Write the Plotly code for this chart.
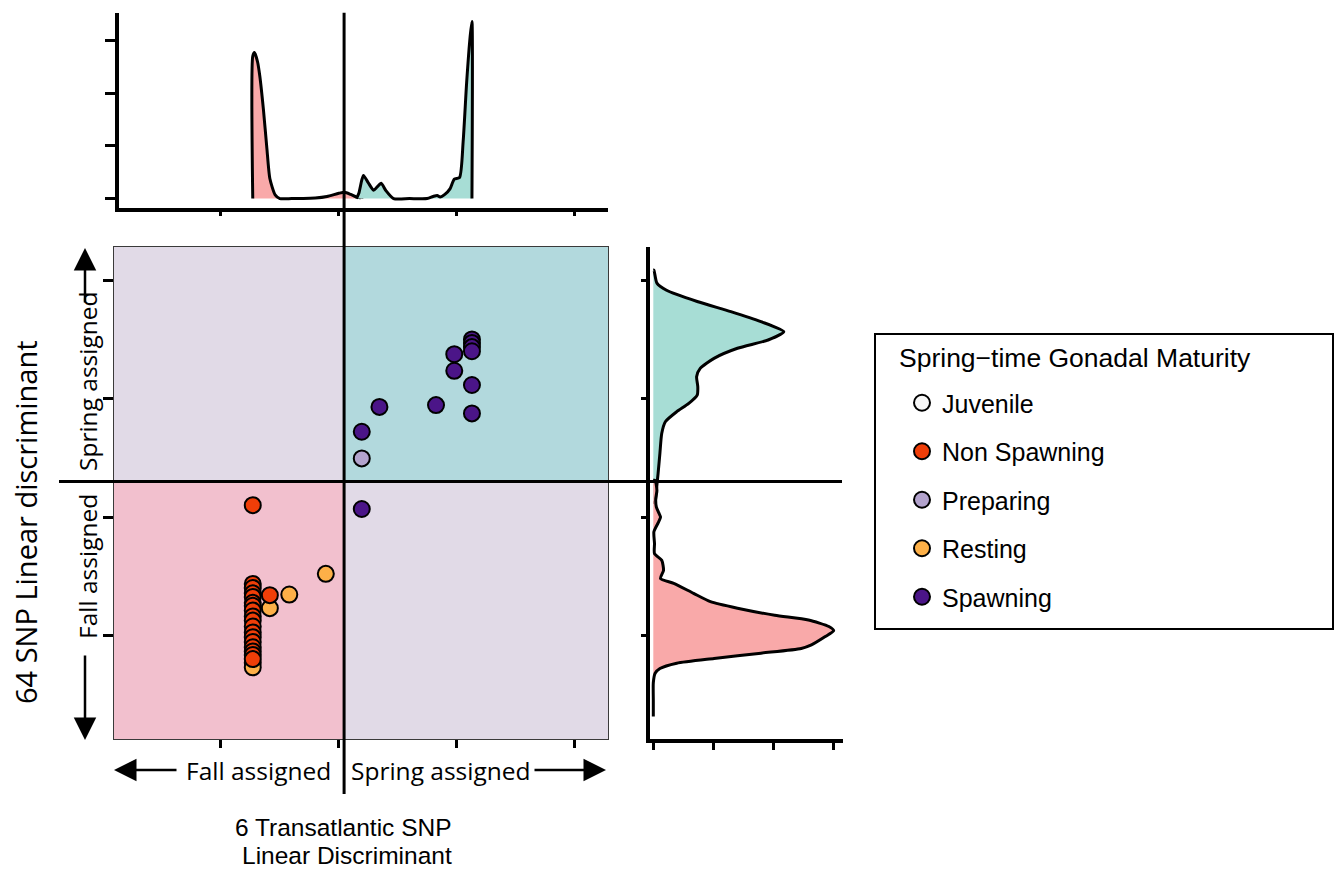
import plotly.graph_objects as go

# ---------------- scatter data ----------------
# x: 6 Transatlantic SNP linear discriminant, y: 64 SNP linear discriminant
juvenile_x = [None]
juvenile_y = [None]

nonspawning_x = [-1.46] * 18 + [-1.17]
nonspawning_y = [0.20, -1.13, -1.20, -1.29, -1.35, -1.45, -1.50, -1.58, -1.68,
                 -1.75, -1.85, -1.95, -2.03, -2.11, -2.20, -2.27, -2.33, -2.40,
                 -1.32]

preparing_x = [0.39]
preparing_y = [0.99]

resting_x = [-0.22, -0.84, -1.17, -1.46, -1.46]
resting_y = [-0.96, -1.31, -1.54, -2.46, -2.54]

spawning_x = [2.26, 2.26, 2.26, 2.26, 1.96, 1.96, 2.26, 0.69, 1.65, 2.26, 0.39, 0.39]
spawning_y = [3.00, 2.94, 2.87, 2.80, 2.75, 2.47, 2.23, 1.86, 1.89, 1.75, 1.44, 0.135]

# ---------------- marginal densities ----------------
# top margin: density along x, per assignment group
top_fall_x = [-1.46, -1.46, -1.43, -1.38, -1.34, -1.28, -1.22, -1.17, -1.08, -1.00,
              -0.80, -0.60, -0.40, -0.20, 0.00, 0.10, 0.20, 0.30, 0.39, 0.39]
top_fall_y = [0.00, 2.70, 2.77, 2.60, 2.32, 1.70, 0.95, 0.38, 0.07, 0.00,
              0.00, 0.00, 0.01, 0.04, 0.10, 0.12, 0.08, 0.03, 0.01, 0.00]

top_spring_x = [0.30, 0.34, 0.39, 0.42, 0.50, 0.59, 0.65, 0.72, 0.80, 0.93, 1.20,
                1.50, 1.60, 1.67, 1.72, 1.80, 1.89, 1.96, 2.05, 2.11, 2.17, 2.23,
                2.26, 2.26]
top_spring_y = [0.00, 0.10, 0.35, 0.44, 0.30, 0.16, 0.22, 0.29, 0.15, 0.00, 0.00,
                0.00, 0.04, 0.06, 0.03, 0.08, 0.19, 0.37, 0.40, 1.07, 2.20, 3.08,
                3.36, 0.00]

# right margin: density along y, per assignment group
right_spring_y = [4.17, 4.17, 3.95, 3.83, 3.64, 3.47, 3.30, 3.13, 2.99, 2.85, 2.68,
                  2.51, 2.37, 2.20, 2.06, 1.92, 1.78, 1.61, 1.41, 1.08, 0.74, 0.40,
                  0.25, 0.25]
right_spring_d = [0.00, 0.01, 0.06, 0.22, 0.73, 1.29, 1.79, 2.17, 1.91, 1.40, 1.01,
                  0.78, 0.72, 0.74, 0.73, 0.59, 0.39, 0.20, 0.14, 0.11, 0.08, 0.045,
                  0.03, 0.00]

right_fall_y = [0.62, 0.62, 0.45, 0.30, 0.17, 0.05, 0.00, -0.10, -0.25, -0.45, -0.62,
                -0.73, -0.90, -1.04, -1.12, -1.29, -1.43, -1.54, -1.66, -1.74, -1.85,
                -1.92, -2.02, -2.16, -2.22, -2.30, -2.39, -2.47, -2.56, -2.64, -2.80,
                -3.10, -3.37, -3.37]
right_fall_d = [0.00, 0.03, 0.06, 0.04, 0.05, 0.10, 0.12, 0.08, 0.01, 0.02, 0.02,
                0.14, 0.17, 0.12, 0.34, 0.67, 0.95, 1.40, 2.02, 2.58, 2.92,
                3.00, 2.86, 2.63, 2.46, 1.79, 1.01, 0.39, 0.11, 0.03, 0.00,
                0.00, 0.00, 0.00]

# assignment thresholds
x_cut = 0.09
y_cut = 0.60

# axis ranges and tick positions
x_range = [-3.815, 4.569]
top_x_range = [-3.73, 4.569]
y_range = [-3.75, 4.561]
x_ticks = [-2, 0, 2, 4]
y_ticks = [-2, 0, 2, 4]
top_dens_range = [-0.169, 3.526]
top_dens_ticks = [0, 1, 2, 3]
right_dens_range = [-0.055, 3.15]
right_dens_ticks = [0, 1, 2, 3]

W, H = 1340, 870


def px(v):
    return v / W


def py(v):
    return 1 - v / H


COL_FALL_DENS = "#F9A9A9"
COL_SPRING_DENS = "#A7DDD5"
COL_Q_MIXED = "#E1DAE7"
COL_Q_SPRING = "#B2D9DD"
COL_Q_FALL = "#F2C0CE"

TXT_FONT = "Open Sans"
TITLE_FONT = "Liberation Sans"

fig = go.Figure()

# marginal density polygons
dens_line = dict(color="black", width=3, shape="spline", smoothing=0.6)
fig.add_trace(go.Scatter(x=top_fall_x, y=top_fall_y, xaxis="x2", yaxis="y2",
                         mode="lines", fill="toself", fillcolor=COL_FALL_DENS,
                         line=dens_line, showlegend=False, hoverinfo="skip"))
fig.add_trace(go.Scatter(x=top_spring_x, y=top_spring_y, xaxis="x2", yaxis="y2",
                         mode="lines", fill="toself", fillcolor=COL_SPRING_DENS,
                         line=dens_line, showlegend=False, hoverinfo="skip"))
fig.add_trace(go.Scatter(x=right_spring_d, y=right_spring_y, xaxis="x3", yaxis="y3",
                         mode="lines", fill="toself", fillcolor=COL_SPRING_DENS,
                         line=dens_line, showlegend=False, hoverinfo="skip"))
fig.add_trace(go.Scatter(x=right_fall_d, y=right_fall_y, xaxis="x3", yaxis="y3",
                         mode="lines", fill="toself", fillcolor=COL_FALL_DENS,
                         line=dens_line, showlegend=False, hoverinfo="skip"))

# scatter groups (drawn so that Non Spawning sits on top, legend order fixed by rank)
groups = [
    ("Juvenile", juvenile_x, juvenile_y, "#F7F7F7", 1),
    ("Preparing", preparing_x, preparing_y, "#B3A3CD", 3),
    ("Resting", resting_x, resting_y, "#FDB048", 4),
    ("Spawning", spawning_x, spawning_y, "#4B1588", 5),
    ("Non Spawning", nonspawning_x, nonspawning_y, "#F03E08", 2),
]
for name, gx, gy, col, rank in groups:
    fig.add_trace(go.Scatter(
        x=gx, y=gy, mode="markers", name=name, legendgroup=name, legendrank=rank,
        marker=dict(size=16, color=col, line=dict(color="black", width=2)),
    ))

# quadrant backgrounds
quads = [
    (x_range[0], x_cut, y_cut, y_range[1], COL_Q_MIXED),
    (x_cut, x_range[1], y_cut, y_range[1], COL_Q_SPRING),
    (x_range[0], x_cut, y_range[0], y_cut, COL_Q_FALL),
    (x_cut, x_range[1], y_range[0], y_cut, COL_Q_MIXED),
]
shapes = []
for x0, x1, y0, y1, col in quads:
    shapes.append(dict(type="rect", xref="x", yref="y", x0=x0, x1=x1, y0=y0, y1=y1,
                       fillcolor=col, line=dict(width=0), layer="below"))

# threshold lines spanning the panels
shapes.append(dict(type="line", xref="x", yref="paper", x0=x_cut, x1=x_cut,
                   y0=py(794), y1=py(12.7), line=dict(color="black", width=3)))
shapes.append(dict(type="line", xref="paper", yref="y", x0=px(59), x1=px(842),
                   y0=y_cut, y1=y_cut, line=dict(color="black", width=3)))

# legend frame
shapes.append(dict(type="rect", xref="paper", yref="paper", x0=px(875), x1=px(1333),
                   y0=py(629), y1=py(334), line=dict(color="black", width=2),
                   fillcolor="rgba(0,0,0,0)"))

ann_font = dict(family=TXT_FONT, size=24.5, color="black")
arrow = dict(xref="paper", yref="paper", text="", showarrow=True, arrowhead=2,
             arrowsize=1.8, arrowwidth=2.5, arrowcolor="black")
xtitle_font = dict(family=TITLE_FONT, size=24.5, color="black")

annotations = [
    # horizontal assignment labels with arrows
    dict(x=px(258), y=py(770), xref="paper", yref="paper", text="Fall assigned",
         showarrow=False, xanchor="center", yanchor="middle", font=ann_font),
    dict(x=px(441), y=py(770), xref="paper", yref="paper", text="Spring assigned",
         showarrow=False, xanchor="center", yanchor="middle", font=ann_font),
    dict(x=px(114), y=py(770), ax=64, ay=0, **arrow),
    dict(x=px(606), y=py(770), ax=-73, ay=0, **arrow),
    # vertical assignment labels with arrows
    dict(x=px(87), y=py(381), xref="paper", yref="paper", text="Spring assigned",
         showarrow=False, textangle=-90, xanchor="center", yanchor="middle",
         font=ann_font),
    dict(x=px(87), y=py(567), xref="paper", yref="paper", text="Fall assigned",
         showarrow=False, textangle=-90, xanchor="center", yanchor="middle",
         font=ann_font),
    dict(x=px(85), y=py(248), ax=0, ay=56, **arrow),
    dict(x=px(85), y=py(740), ax=0, ay=-86, **arrow),
    # x axis title (two lines)
    dict(x=px(343), y=py(827), xref="paper", yref="paper", text="6 Transatlantic SNP",
         showarrow=False, xanchor="center", yanchor="middle", font=xtitle_font),
    dict(x=px(347), y=py(855.5), xref="paper", yref="paper", text="Linear Discriminant",
         showarrow=False, xanchor="center", yanchor="middle", font=xtitle_font),
    # y axis title
    dict(x=px(25), y=py(522), xref="paper", yref="paper",
         text="64 SNP Linear discriminant", showarrow=False, textangle=-90,
         xanchor="center", yanchor="middle",
         font=dict(family=TXT_FONT, size=29, color="black")),
    # legend heading
    dict(x=px(897), y=py(358), xref="paper", yref="paper",
         text="Spring\u2212time Gonadal Maturity", showarrow=False,
         xanchor="left", yanchor="middle",
         font=dict(family=TITLE_FONT, size=26.5, color="black")),
]

main_dom_x = [px(114), px(608)]
main_dom_y = [py(739), py(247)]

fig.update_layout(
    width=W, height=H,
    margin=dict(l=0, r=0, t=0, b=0),
    paper_bgcolor="white", plot_bgcolor="rgba(0,0,0,0)",
    showlegend=True,
    shapes=shapes,
    annotations=annotations,
    legend=dict(
        x=px(902), y=py(380), xanchor="left", yanchor="top",
        bgcolor="rgba(0,0,0,0)", borderwidth=0,
        font=dict(family=TITLE_FONT, size=25, color="black"),
        tracegroupgap=13, itemsizing="trace",
    ),
    xaxis=dict(domain=main_dom_x, anchor="y", range=x_range, tickvals=x_ticks,
               showticklabels=False, ticks="outside", ticklen=8, tickwidth=3,
               tickcolor="black", showline=True, mirror=True, linecolor="#3a3a3a",
               linewidth=1, showgrid=False, zeroline=False),
    yaxis=dict(domain=main_dom_y, anchor="x", range=y_range, tickvals=y_ticks,
               showticklabels=False, ticks="outside", ticklen=10, tickwidth=3,
               tickcolor="black", showline=True, mirror=True, linecolor="#3a3a3a",
               linewidth=1, showgrid=False, zeroline=False),
    xaxis2=dict(domain=[px(119), px(608)], anchor="y2", range=top_x_range,
                tickvals=x_ticks, showticklabels=False, ticks="outside", ticklen=5,
                tickwidth=3, tickcolor="black", showline=True, linecolor="black",
                linewidth=3.5, showgrid=False, zeroline=False),
    yaxis2=dict(domain=[py(207.5), py(12.7)], anchor="x2", range=top_dens_range,
                tickvals=top_dens_ticks, showticklabels=False, ticks="outside",
                ticklen=10, tickwidth=3, tickcolor="black", showline=True,
                linecolor="black", linewidth=3.5, showgrid=False, zeroline=False),
    xaxis3=dict(domain=[px(650), px(842.7)], anchor="y3", range=right_dens_range,
                tickvals=right_dens_ticks, showticklabels=False, ticks="outside",
                ticklen=7, tickwidth=3, tickcolor="black", showline=True,
                linecolor="black", linewidth=3.5, showgrid=False, zeroline=False),
    yaxis3=dict(domain=main_dom_y, anchor="x3", matches="y", tickvals=y_ticks,
                showticklabels=False, ticks="outside", ticklen=5, tickwidth=3,
                tickcolor="black", showline=True, linecolor="black", linewidth=3.5,
                showgrid=False, zeroline=False),
)

fig.write_html("out.html")
